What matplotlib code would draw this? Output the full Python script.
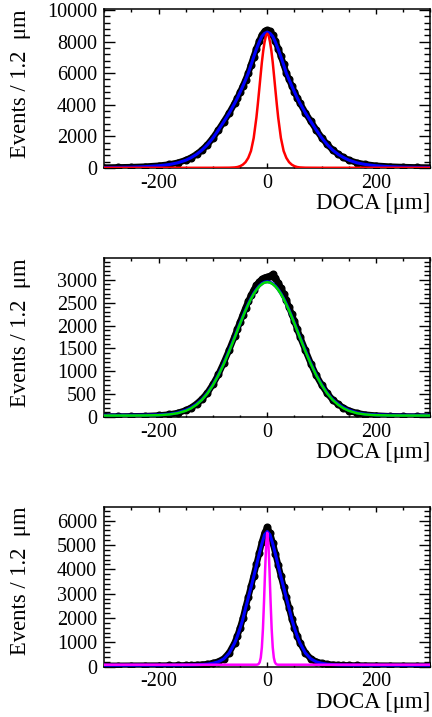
import numpy as np
from matplotlib import pyplot as plt
from matplotlib.ticker import MultipleLocator

plt.rcParams['font.family'] = ['Liberation Serif', 'DejaVu Serif']
plt.rcParams['axes.unicode_minus'] = False

x = [-300, -275, -250, -225, -200, -180, -165, -150, -140, -130, -120, -110, -100, -90,
     -80, -70, -60, -55, -50, -45, -40, -35, -30, -25, -20, -15, -10, -5, 0,
     5, 10, 15, 20, 25, 30, 35, 40, 45, 50, 55, 60, 70, 80, 90, 100, 110, 120,
     130, 140, 150, 165, 180, 200, 225, 250, 275, 300]

# top panel
data1 = [30, 42, 58, 88, 145, 225, 330, 495, 660, 870, 1140, 1480, 1900, 2400,
         2930, 3480, 4100, 4430, 4800, 5180, 5580, 6000, 6530, 7050, 7550, 8010, 8420, 8650, 8720,
         8640, 8420, 8020, 7560, 7070, 6550, 6010, 5600, 5200, 4820, 4450, 4110, 3500, 2950,
         2420, 1920, 1500, 1150, 880, 670, 500, 330, 230, 145, 90, 60, 40, 30]
fit1 = [30, 40, 55, 85, 140, 220, 325, 490, 655, 865, 1135, 1475, 1895, 2395,
        2925, 3475, 4095, 4425, 4795, 5175, 5575, 5995, 6520, 7030, 7520, 7960, 8330, 8520, 8600,
        8520, 8330, 7960, 7520, 7040, 6530, 6000, 5590, 5190, 4810, 4440, 4100, 3490, 2940,
        2410, 1910, 1490, 1140, 870, 665, 495, 325, 225, 140, 85, 55, 40, 30]
x_red = [-300, -100, -70, -60, -55, -50, -45, -40, -35, -30, -25, -20, -17.5, -15, -12.5,
         -10, -7.5, -5, -2.5, 0, 2.5, 5, 7.5, 10, 12.5, 15, 17.5, 20, 25, 30, 35, 40,
         45, 50, 55, 60, 70, 100, 300]
red1 = [10, 12, 18, 35, 60, 115, 210, 370, 640, 1080, 1900, 3200, 4020, 4900, 5800,
        6680, 7410, 7970, 8370, 8500, 8370, 7970, 7410, 6680, 5800, 4900, 4020, 3200, 1900,
        1080, 640, 370, 210, 115, 60, 35, 18, 12, 10]

# middle panel
data2 = [15, 12, 16, 20, 34, 55, 88, 145, 205, 288, 395, 530, 715, 930,
         1190, 1470, 1770, 1930, 2080, 2240, 2390, 2530, 2660, 2780, 2880, 2960, 3010, 3050, 3060,
         3080, 3120, 3040, 2940, 2830, 2700, 2560, 2400, 2250, 2090, 1920, 1760, 1460, 1170,
         910, 700, 520, 380, 280, 200, 140, 86, 52, 32, 18, 14, 12, 12]
fit2 = [38, 38, 38, 40, 46, 62, 91, 148, 204, 283, 384, 525, 704, 919,
        1172, 1454, 1746, 1899, 2050, 2198, 2340, 2473, 2593, 2700, 2791, 2864, 2917, 2949, 2960,
        2949, 2917, 2864, 2791, 2700, 2593, 2473, 2340, 2198, 2050, 1899, 1746, 1454, 1172,
        919, 704, 525, 384, 283, 204, 148, 91, 62, 46, 40, 38, 38, 38]
green2 = [32, 32, 32, 34, 40, 56, 83, 135, 191, 270, 376, 517, 696, 911,
          1160, 1440, 1736, 1889, 2040, 2188, 2330, 2463, 2583, 2690, 2781, 2854, 2907, 2939, 2950,
          2939, 2907, 2854, 2781, 2690, 2583, 2463, 2330, 2188, 2040, 1889, 1736, 1440, 1160,
          911, 696, 517, 376, 270, 191, 135, 83, 56, 40, 34, 32, 32, 32]

# bottom panel
data3 = [40, 38, 42, 44, 46, 48, 51, 56, 62, 70, 85, 105, 145, 210,
         330, 575, 990, 1270, 1600, 1980, 2440, 2860, 3300, 3740, 4200, 4660, 5110, 5500, 5720,
         5480, 5090, 4640, 4180, 3720, 3280, 2850, 2420, 1970, 1600, 1270, 985, 570, 325,
         205, 142, 102, 82, 68, 60, 54, 50, 46, 44, 42, 40, 39, 38]
fit3 = [60, 60, 61, 62, 63, 64, 65, 67, 70, 75, 86, 104, 140, 200,
        320, 560, 970, 1250, 1580, 1950, 2400, 2830, 3260, 3700, 4160, 4620, 5050, 5420, 5550,
        5420, 5050, 4620, 4160, 3700, 3260, 2830, 2400, 1950, 1580, 1250, 970, 560, 320,
        200, 140, 102, 85, 74, 69, 66, 64, 63, 62, 61, 60, 60, 60]
x_mag = [-300, -20, -18, -16, -14, -12, -10, -8, -6, -4, -2, 0,
         2, 4, 6, 8, 10, 12, 14, 16, 18, 20, 300]
mag3 = [80, 80, 86, 110, 180, 370, 790, 1560, 2690, 3990, 5070, 5500,
        5070, 3990, 2690, 1560, 790, 370, 180, 110, 86, 80, 80]


def style(ax, ymax, ymajor, yminor):
    ax.set_xlim(-300, 300)
    ax.set_ylim(0, ymax)
    ax.xaxis.set_major_locator(MultipleLocator(200))
    ax.xaxis.set_minor_locator(MultipleLocator(50))
    ax.yaxis.set_major_locator(MultipleLocator(ymajor))
    ax.yaxis.set_minor_locator(MultipleLocator(yminor))
    ax.tick_params(axis='both', which='both', direction='in', top=True, right=True,
                   labelsize=14.5, width=1.0)
    ax.tick_params(axis='y', which='major', length=8, pad=5)
    ax.tick_params(axis='y', which='minor', length=4)
    ax.tick_params(axis='x', which='major', length=3.5, pad=4)
    ax.tick_params(axis='x', which='minor', length=1.8)
    for s in ax.spines.values():
        s.set_linewidth(1.1)
    ax.set_xlabel('DOCA [μm]', fontsize=16.5, loc='right')
    ax.xaxis.set_label_coords(1.0, -0.16)
    ax.set_ylabel('Events / 1.2  μm', fontsize=16.3, loc='top')
    ax.yaxis.set_label_coords(-0.225, 1.0)


def panel(ax, data, fit, xc, comp, color):
    ax.plot(x, data, color='black', lw=4.6, solid_capstyle='round', zorder=2)
    ax.plot(x, data, 'o', color='black', ms=4.8, zorder=2)
    ax.plot(x, fit, color='blue', lw=2.2, zorder=3)
    ax.plot(xc, comp, color=color, lw=1.8, zorder=4)


fig = plt.figure(figsize=(4.32, 7.17), dpi=100)
ax1 = fig.add_axes([0.241, 0.7657, 0.7555, 0.2211])
ax2 = fig.add_axes([0.241, 0.4184, 0.7555, 0.2213])
ax3 = fig.add_axes([0.241, 0.0702, 0.7555, 0.2232])

panel(ax1, data1, fit1, x_red, red1, 'red')
panel(ax2, data2, fit2, x, green2, '#00dd00')
panel(ax3, data3, fit3, x_mag, mag3, 'magenta')

style(ax1, 10030, 2000, 400)
style(ax2, 3470, 500, 100)
style(ax3, 6575, 1000, 200)

fig.savefig('out.png', dpi=100)
